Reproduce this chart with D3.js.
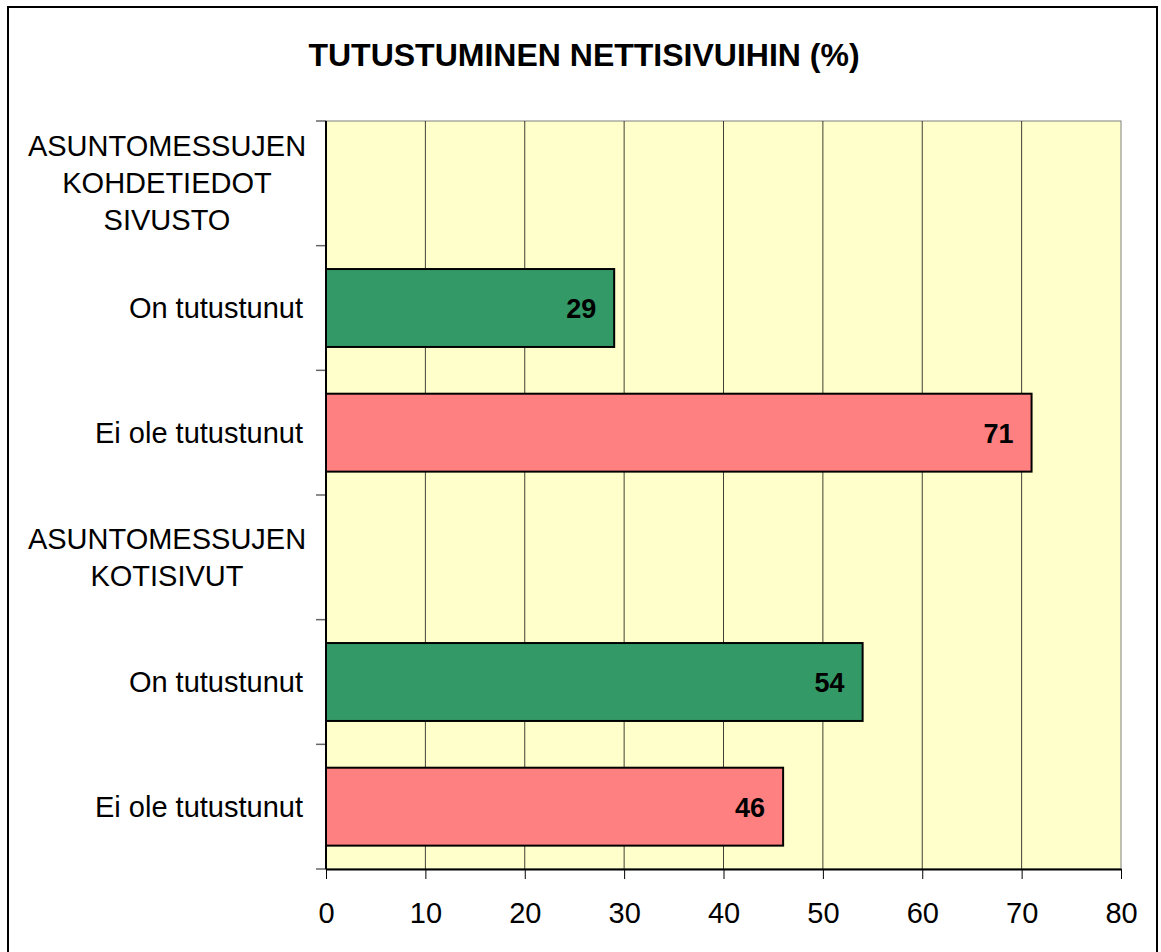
<!DOCTYPE html>
<html>
<head>
<meta charset="utf-8">
<script src="https://cdn.jsdelivr.net/npm/d3@7"></script>
<style>
  body { margin: 0; background: #fff; }
  svg text { font-family: "Liberation Sans", Arial, sans-serif; fill: #000; }
</style>
</head>
<body>
<div id="chart"></div>
<script>
// Data
const rowLabels = [
    ["ASUNTOMESSUJEN", "KOHDETIEDOT", "SIVUSTO"],
    ["On tutustunut"],
    ["Ei ole tutustunut"],
    ["ASUNTOMESSUJEN", "KOTISIVUT"],
    ["On tutustunut"],
    ["Ei ole tutustunut"]
];
const rowValues = [null, 29, 71, null, 54, 46];
const rowKinds = ["header", "on", "ei", "header", "on", "ei"];
const xTicks = [0, 10, 20, 30, 40, 50, 60, 70, 80];
const TITLE = "TUTUSTUMINEN NETTISIVUIHIN (%)";

const WIDTH = 1161, HEIGHT = 952;
const plot = { left: 326, right: 1121, top: 121, bottom: 869 };
const colors = { on: "#339966", ei: "#FF8080" };

const svg = d3.select("#chart").append("svg")
    .attr("width", WIDTH)
    .attr("height", HEIGHT);

// Outer chart frame
svg.append("rect")
    .attr("x", 8).attr("y", 7)
    .attr("width", 1149).attr("height", 960)
    .attr("fill", "#fff")
    .attr("stroke", "#000")
    .attr("stroke-width", 2);

// Title
svg.append("text")
    .attr("x", 584).attr("y", 66)
    .attr("text-anchor", "middle")
    .attr("font-size", 32)
    .attr("font-weight", "bold")
    .text(TITLE);

const x = d3.scaleLinear().domain([0, 80]).range([plot.left, plot.right]);
const y = d3.scaleBand()
    .domain(d3.range(rowLabels.length))
    .range([plot.top, plot.bottom])
    .paddingInner(0.375)
    .paddingOuter(0.1875);

// Plot background
svg.append("rect")
    .attr("x", plot.left).attr("y", plot.top)
    .attr("width", plot.right - plot.left)
    .attr("height", plot.bottom - plot.top)
    .attr("fill", "#FFFFCC")
    .attr("stroke", "#808080")
    .attr("stroke-width", 1);

// Vertical gridlines
svg.append("g")
    .selectAll("line")
    .data(xTicks.filter(d => d > 0 && d < 80))
    .join("line")
    .attr("x1", d => x(d)).attr("x2", d => x(d))
    .attr("y1", plot.top).attr("y2", plot.bottom)
    .attr("stroke", "#000")
    .attr("stroke-opacity", 0.75)
    .attr("stroke-width", 1);

// Bars
const bars = rowValues.map((v, i) => ({ v, i, kind: rowKinds[i] })).filter(d => d.v !== null);

svg.append("g")
    .selectAll("rect")
    .data(bars)
    .join("rect")
    .attr("x", x(0))
    .attr("y", d => y(d.i))
    .attr("width", d => x(d.v) - x(0))
    .attr("height", y.bandwidth())
    .attr("fill", d => colors[d.kind])
    .attr("stroke", "#000")
    .attr("stroke-width", 2);

// Value labels
svg.append("g")
    .selectAll("text")
    .data(bars)
    .join("text")
    .attr("x", d => x(d.v) - 18)
    .attr("y", d => y(d.i) + y.bandwidth() / 2 + 10)
    .attr("text-anchor", "end")
    .attr("font-size", 27)
    .attr("font-weight", "bold")
    .text(d => d.v);

// X axis
const xAxis = svg.append("g")
    .attr("transform", `translate(0,${plot.bottom})`)
    .call(d3.axisBottom(x).tickValues(xTicks).tickSize(10).tickPadding(23).tickSizeOuter(0));
xAxis.select(".domain").attr("stroke", "#000").attr("stroke-width", 2);
xAxis.selectAll(".tick line").attr("stroke", "#000");
xAxis.selectAll("text").attr("font-size", 29).attr("font-family", "Liberation Sans, Arial, sans-serif");

// Y axis line + ticks at band boundaries
const yEdges = d3.range(rowLabels.length + 1).map(i => plot.top + i * (plot.bottom - plot.top) / rowLabels.length);
svg.append("line")
    .attr("x1", plot.left).attr("x2", plot.left)
    .attr("y1", plot.top).attr("y2", plot.bottom)
    .attr("stroke", "#000").attr("stroke-width", 2);
svg.append("g")
    .selectAll("line")
    .data(yEdges)
    .join("line")
    .attr("x1", plot.left - 10).attr("x2", plot.left)
    .attr("y1", d => d).attr("y2", d => d)
    .attr("stroke", "#000")
    .attr("stroke-opacity", 0.6)
    .attr("stroke-width", 1.5);

// Category labels
const lineH = 37;
const labelG = svg.append("g");
rowLabels.forEach((lines, i) => {
    const cy = y(i) + y.bandwidth() / 2;
    const multi = lines.length > 1;
    const t = labelG.append("text")
        .attr("font-size", 29)
        .attr("text-anchor", multi ? "middle" : "end")
        .attr("x", multi ? 167 : 303);
    lines.forEach((ln, k) => {
        t.append("tspan")
            .attr("x", multi ? 167 : 303)
            .attr("y", cy + (k - (lines.length - 1) / 2) * lineH + 10)
            .text(ln);
    });
});
</script>
</body>
</html>
